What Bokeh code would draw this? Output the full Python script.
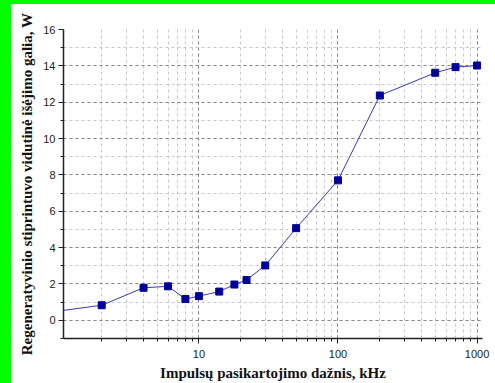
from bokeh.plotting import figure
from bokeh.models import (Range1d, SingleIntervalTicker, LogTicker,
                          NumeralTickFormatter, Spacer)
from bokeh.layouts import row, column
from bokeh.embed import file_html
from bokeh.resources import INLINE

# Repetition rate (kHz) and average output power (W) of the regenerative amplifier
freq_khz = [1, 2, 4, 6, 8, 10, 14, 18, 22, 30, 50, 100, 200, 500, 700, 1000]
power_w = [0.52, 0.83, 1.79, 1.87, 1.17, 1.33, 1.58, 1.97, 2.22, 3.02,
           5.07, 7.7, 12.37, 13.62, 13.93, 14.02]

x_label = "Impulsų pasikartojimo dažnis, kHz"
y_label = "Regeneratyvinio stiprintuvo vidutinė išėjimo galia, W"

p = figure(width=484, height=379, x_axis_type="log",
           x_range=Range1d(1.063, 1094), y_range=Range1d(-1, 16),
           output_backend="svg", toolbar_location=None,
           min_border_left=52, min_border_right=13,
           min_border_top=25, min_border_bottom=43)

p.background_fill_color = "white"
p.border_fill_color = "white"
p.outline_line_color = None

# grids: darker dashes on major ticks, lighter ones on minor ticks
for g in (p.xgrid, p.ygrid):
    g.grid_line_color = "#8a8a8a"
    g.grid_line_dash = "3 3"
    g.grid_line_width = 1
    g.minor_grid_line_color = "#c8c8c8"
    g.minor_grid_line_dash = "3 3"
    g.minor_grid_line_width = 1

p.yaxis.ticker = SingleIntervalTicker(interval=2, num_minor_ticks=2)
p.xaxis.ticker = LogTicker(num_minor_ticks=10)
p.xaxis.formatter = NumeralTickFormatter(format="0")
p.ygrid.ticker = p.yaxis.ticker
p.xgrid.ticker = p.xaxis.ticker

for ax in (p.xaxis, p.yaxis):
    ax.axis_line_color = "#222222"
    ax.axis_line_width = 1.5
    ax.major_tick_line_color = "#222222"
    ax.minor_tick_line_color = "#222222"
    ax.major_tick_out = 5
    ax.major_tick_in = 0
    ax.minor_tick_out = 3
    ax.minor_tick_in = 0
    ax.major_label_text_font = "Liberation Sans"
    ax.major_label_text_font_size = "11px"
    ax.major_label_text_color = "#222222"
    ax.axis_label_text_font = "Liberation Serif"
    ax.axis_label_text_font_style = "bold"
    ax.axis_label_text_font_size = "15px"
    ax.axis_label_text_color = "#111111"

p.xaxis.axis_label = x_label
p.yaxis.axis_label = y_label
p.yaxis.major_label_standoff = 3
p.yaxis.axis_label_standoff = 5
p.xaxis.major_label_standoff = 6
p.xaxis.axis_label_standoff = 4

p.line(freq_khz, power_w, line_color="#3838c8", line_width=1)
p.scatter(freq_khz, power_w, marker="square", size=7,
          fill_color="#000099", line_color="#000099")

green = "#00ff00"
left_strip = Spacer(width=11, height=383, styles={"background-color": green})
top_strip = Spacer(width=484, height=4, styles={"background-color": green})
page = row(left_strip, column(top_strip, p, spacing=0), spacing=0)

open("out.html", "w").write(file_html(page, INLINE))
